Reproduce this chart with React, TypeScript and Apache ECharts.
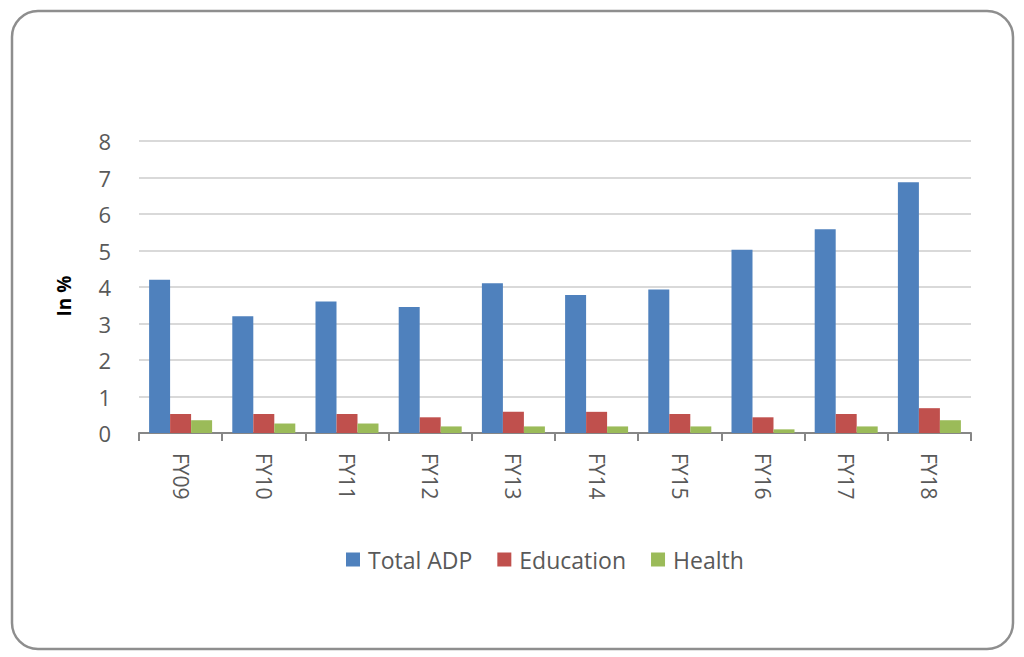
import React, { useEffect, useRef } from "react";
import * as echarts from "echarts";

const categories = ["FY09", "FY10", "FY11", "FY12", "FY13", "FY14", "FY15", "FY16", "FY17", "FY18"];
const totalADP = [4.2, 3.2, 3.6, 3.45, 4.1, 3.78, 3.93, 5.02, 5.58, 6.87];
const education = [0.52, 0.52, 0.52, 0.43, 0.58, 0.58, 0.52, 0.43, 0.52, 0.68];
const health = [0.35, 0.26, 0.26, 0.18, 0.18, 0.18, 0.18, 0.1, 0.18, 0.35];
const yTicks = { min: 0, max: 8, interval: 1 };

const FONT = "'Open Sans', sans-serif";
const TXT = "#595959";

export default function App() {
  const ref = useRef<HTMLDivElement>(null);
  useEffect(() => {
    if (!ref.current) return;
    const chart = echarts.init(ref.current, null, { renderer: "svg" });
    chart.setOption({
      animation: false,
      backgroundColor: "#ffffff",
      textStyle: { fontFamily: FONT },
      graphic: [
        {
          type: "rect",
          shape: { x: 12, y: 11, width: 1001, height: 638, r: 26 },
          style: { fill: "none", stroke: "#8e8e8e", lineWidth: 2.5 },
          silent: true,
        },
      ],
      grid: { left: 139, right: 53, top: 141, bottom: 224, containLabel: false },
      legend: {
        left: 346,
        top: 548,
        padding: 0,
        itemWidth: 14,
        itemHeight: 14,
        itemGap: 25,
        icon: "rect",
        textStyle: { fontSize: 23, color: TXT, fontFamily: FONT, padding: [0, 0, 0, 3] },
        data: ["Total ADP", "Education", "Health"],
      },
      xAxis: {
        type: "category",
        data: categories,
        axisLine: { lineStyle: { color: "#868686", width: 2 } },
        axisTick: { show: true, length: 8, interval: 0, lineStyle: { color: "#868686", width: 2 } },
        axisLabel: { rotate: -90, fontSize: 21, color: TXT, margin: 20, fontFamily: FONT },
      },
      yAxis: {
        type: "value",
        min: yTicks.min,
        max: yTicks.max,
        interval: yTicks.interval,
        name: "In %",
        nameLocation: "middle",
        nameRotate: 90,
        nameGap: 66,
        nameTextStyle: { fontSize: 19, fontWeight: "bold", color: "#000", fontFamily: FONT, padding: [0, 18, 0, 0] },
        axisLine: { show: false },
        axisTick: { show: false },
        axisLabel: { fontSize: 22, color: TXT, margin: 28, fontFamily: FONT },
        splitLine: { lineStyle: { color: "#d9d9d9", width: 2 } },
      },
      series: [
        { name: "Total ADP", type: "bar", data: totalADP, barWidth: 21, barGap: "0%", itemStyle: { color: "#4f81bd" } },
        { name: "Education", type: "bar", data: education, barWidth: 21, barGap: "0%", itemStyle: { color: "#c0504d" } },
        { name: "Health", type: "bar", data: health, barWidth: 21, barGap: "0%", itemStyle: { color: "#9bbb59" } },
      ],
    });
    return () => chart.dispose();
  }, []);
  return (
    <div
      ref={ref}
      style={{ position: "absolute", left: 0, top: 0, width: 1024, height: 657 }}
    />
  );
}
